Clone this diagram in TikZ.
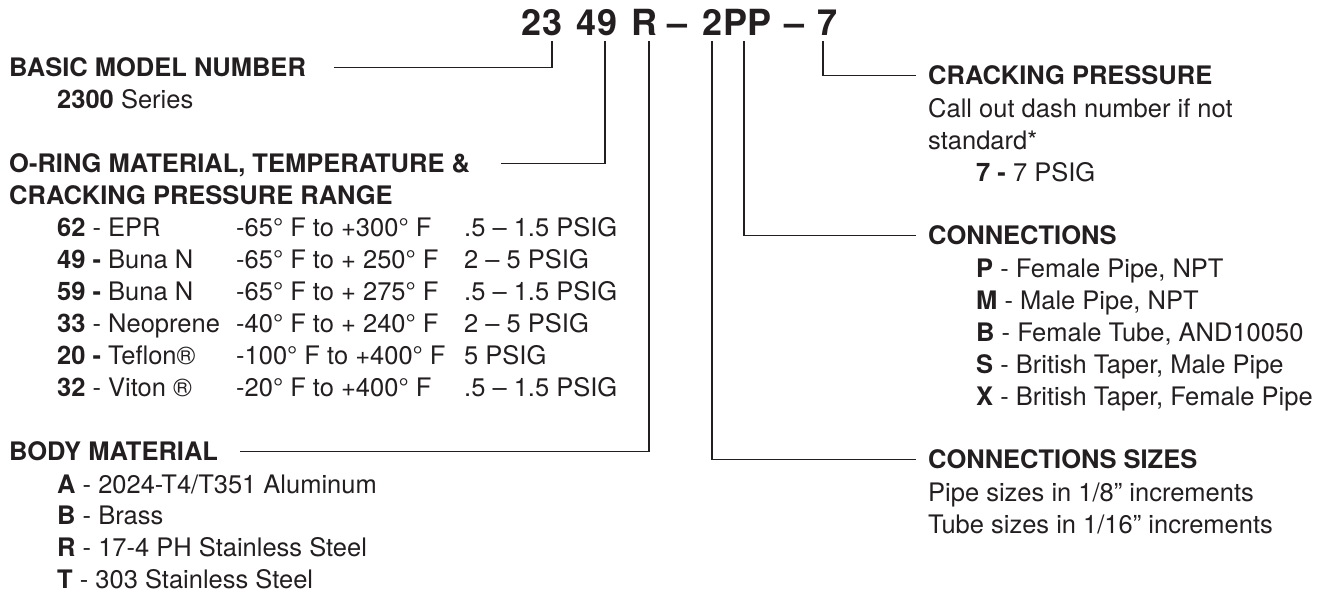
\documentclass[tikz,border=0pt]{standalone}
\usepackage{fontspec}
\setmainfont{TeX Gyre Heros}
\usetikzlibrary{positioning}
\definecolor{ink}{HTML}{231F20}

\begin{document}
\begin{tikzpicture}[x=1pt, y=-1pt, every node/.style={inner sep=0pt, text=ink, anchor=base west, font=\fontsize{25.5}{32}\selectfont}]
    \tikzstyle{head} = [font=\fontsize{25.5}{32}\selectfont\bfseries, text height=18.3pt, text depth=0pt, anchor=south west]
    \tikzstyle{code} = [font=\fontsize{36}{36}\selectfont\bfseries, anchor=base]
    \tikzstyle{lead} = [draw=ink, line width=1.3pt]
    \useasboundingbox (0,0) rectangle (1331,592);

    % part number
    \node[code] (c23) at (542,35) {23};
    \node[code] (c49) at (597,35) {49};
    \node[code] (cR) at (644,35) {R};
    \node[code] (cdashA) at (678,35) {–};
    \node[code] (c2PP) at (737,35) {2PP};
    \node[code] (cdashB) at (794,35) {–};
    \node[code] (c7) at (827,35) {7};

    \coordinate (k23) at (552,41);
    \coordinate (k49) at (605,41);
    \coordinate (kR) at (649,41);
    \coordinate (k2) at (712,41);
    \coordinate (kP) at (744,41);
    \coordinate (k7) at (823,41);

    % left side
    \node[head] (basic) at (9,77) {BASIC MODEL NUMBER};
    \node (series) at (57,108) {\textbf{2300} Series};

    \node[head] (oring) at (9,173) {O-RING MATERIAL, TEMPERATURE \&};
    \node[font=\fontsize{25.5}{32}\selectfont\bfseries] (oringB) at (9,204) {CRACKING PRESSURE RANGE};
    \node (oringtab) at (57,236) {\begin{tabular}[t]{@{}p{179pt}@{}p{228pt}@{}l@{}}
        \textbf{62} - EPR & -65° F to +300° F & .5 – 1.5 PSIG\\
        \textbf{49 -} Buna N & -65° F to + 250° F & 2 – 5 PSIG\\
        \textbf{59 -} Buna N & -65° F to + 275° F & .5 – 1.5 PSIG\\
        \textbf{33} - Neoprene & -40° F to + 240° F & 2 – 5 PSIG\\
        \textbf{20 -} Teflon® & -100° F to +400° F & 5 PSIG\\
        \textbf{32} - Viton ® & -20° F to +400° F & .5 – 1.5 PSIG
    \end{tabular}};

    \node[head] (body) at (9,461) {BODY MATERIAL};
    \node[font=\fontsize{25.5}{31.7}\selectfont] (bodytab) at (57,493) {\begin{tabular}[t]{@{}l@{}}
        \textbf{A} - 2024-T4/T351 Aluminum\\
        \textbf{B} - Brass\\
        \textbf{R} - 17-4 PH Stainless Steel\\
        \textbf{T} - 303 Stainless Steel
    \end{tabular}};

    % right side
    \node[head] (crack) at (928,85) {CRACKING PRESSURE};
    \node (cracktab) at (928,117) {\begin{tabular}[t]{@{}l@{}}
        Call out dash number if not\\
        standard*\\
        \hspace{48pt}\textbf{7 -} 7 PSIG
    \end{tabular}};

    \node[head] (conn) at (928,245) {CONNECTIONS};
    \node (conntab) at (976,277) {\begin{tabular}[t]{@{}l@{}}
        \textbf{P} - Female Pipe, NPT\\
        \textbf{M} - Male Pipe, NPT\\
        \textbf{B} - Female Tube, AND10050\\
        \textbf{S} - British Taper, Male Pipe\\
        \textbf{X} - British Taper, Female Pipe
    \end{tabular}};

    \node[head] (sizes) at (928,469) {CONNECTIONS SIZES};
    \node (sizestab) at (928,501) {\begin{tabular}[t]{@{}l@{}}
        Pipe sizes in 1/8” increments\\
        Tube sizes in 1/16” increments
    \end{tabular}};

    % leaders
    \draw[lead, shorten >=28pt] (k23) |- (basic);
    \draw[lead, shorten >=31pt] (k49) |- (oring);
    \draw[lead, shorten >=22pt] (kR) |- (body);
    \draw[lead, shorten >=12pt] (k2) |- (sizes);
    \draw[lead, shorten >=12pt] (kP) |- (conn);
    \draw[lead, shorten >=12pt] (k7) |- (crack);
\end{tikzpicture}
\end{document}
